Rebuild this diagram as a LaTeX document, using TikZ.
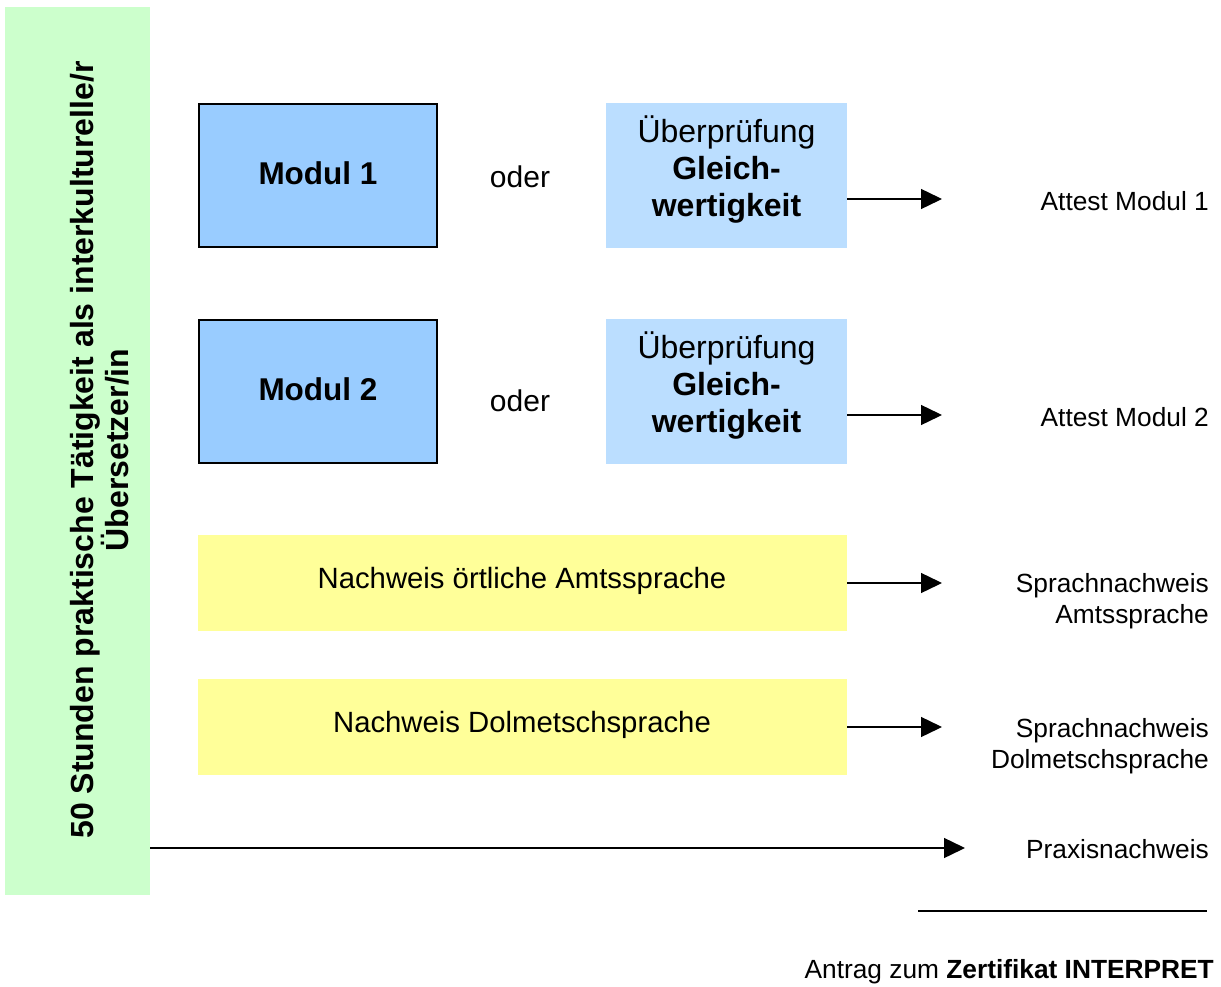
\documentclass[tikz,border=0pt]{standalone}
\usepackage{fontspec}
\setmainfont{Liberation Sans}
\usetikzlibrary{arrows.meta}
\definecolor{greenbg}{HTML}{CCFFCC}
\definecolor{modblue}{HTML}{99CCFF}
\definecolor{checkblue}{HTML}{BBDEFF}
\definecolor{yellowbg}{HTML}{FFFF99}
\tikzset{
  modbox/.style={draw=black, line width=2pt, fill=modblue, minimum width=238pt, minimum height=143pt, inner sep=0pt},
  modtext/.style={inner sep=0pt, font=\fontsize{31.5}{36}\selectfont\bfseries},
  checkbox/.style={fill=checkblue, minimum width=241pt, minimum height=145pt, inner sep=0pt},
  checktext/.style={inner sep=0pt, align=center, font=\fontsize{32}{37}\selectfont},
  langbox/.style={fill=yellowbg, minimum width=649pt, minimum height=96pt, inner sep=0pt},
  boxtext/.style={inner sep=0pt, font=\fontsize{29.3}{35}\selectfont},
  odertext/.style={inner sep=0pt, font=\fontsize{30}{36}\selectfont},
  outlabel/.style={anchor=east, inner sep=0pt, align=right, font=\fontsize{26.3}{31}\selectfont},
  arr/.style={line width=1.4pt, -{Triangle[length=21pt,width=20pt]}},
}
\begin{document}
\begin{tikzpicture}[x=1pt,y=-1pt]
\useasboundingbox (0,0) rectangle (1221,987);
% green side bar
\node[fill=greenbg, minimum width=145pt, minimum height=888pt, inner sep=0pt] (g) at (77.5,451) {};
\node[rotate=90, align=center, inner sep=0pt, font=\fontsize{32}{34}\selectfont\bfseries] (gt) at (100,450)
  {50 Stunden praktische Tätigkeit als interkulturelle/r\\Übersetzer/in};
% module row 1
\node[modbox] (m1) at (318,175.5) {};
\node[modtext] (m1t) at (318,173) {Modul 1};
\node[odertext] (o1) at (520,177) {oder};
\node[checkbox] (c1) at (726.5,175.5) {};
\node[checktext] (c1t) at (726.5,169.5) {Überprüfung\\\textbf{Gleich-}\\\textbf{wertigkeit}};
\coordinate (t1) at (942,199);
\draw[arr] (c1.east |- t1) -- (t1);
\node[outlabel] (l1) at (1209,201) {Attest Modul 1};
% module row 2
\node[modbox] (m2) at (318,391) {};
\node[modtext] (m2t) at (318,389) {Modul 2};
\node[odertext] (o2) at (520,401) {oder};
\node[checkbox] (c2) at (726.5,391) {};
\node[checktext] (c2t) at (726.5,385) {Überprüfung\\\textbf{Gleich-}\\\textbf{wertigkeit}};
\coordinate (t2) at (942,415);
\draw[arr] (c2.east |- t2) -- (t2);
\node[outlabel] (l2) at (1209,417) {Attest Modul 2};
% language boxes
\node[langbox] (y1) at (522.5,583) {};
\node[boxtext] (y1t) at (522,581) {Nachweis örtliche Amtssprache};
\coordinate (t3) at (942,583);
\draw[arr] (y1.east |- t3) -- (t3);
\node[outlabel] (l3) at (1209,601) {Sprachnachweis\\Amtssprache};
\node[langbox] (y2) at (522.5,727) {};
\node[boxtext] (y2t) at (522,725) {Nachweis Dolmetschsprache};
\coordinate (t4) at (942,727);
\draw[arr] (y2.east |- t4) -- (t4);
\node[outlabel] (l4) at (1209,746) {Sprachnachweis\\Dolmetschsprache};
% practice arrow
\coordinate (t5) at (965,848);
\draw[arr] (g.east |- t5) -- (t5);
\node[outlabel] (l5) at (1209,849) {Praxisnachweis};
% sum line
\coordinate (s1) at (918,911);
\coordinate (s2) at (1207,911);
\draw[line width=1.4pt] (s1) -- (s2);
\node[outlabel] (l6) at (1214,972) {Antrag zum \textbf{Zertifikat INTERPRET}};
\end{tikzpicture}
\end{document}
